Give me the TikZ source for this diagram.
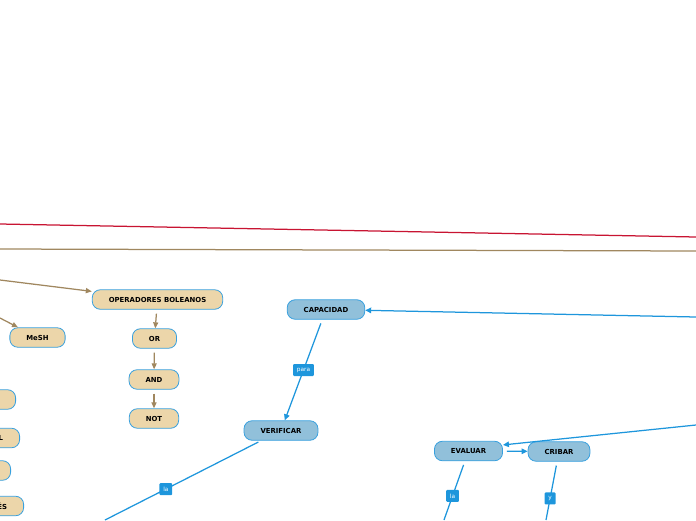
\documentclass[tikz,border=0pt]{standalone}
\usepackage{fontspec}
\setmainfont{DejaVu Sans}
\usetikzlibrary{arrows.meta,positioning}

\definecolor{nodetan}{RGB}{236,214,170}
\definecolor{nodeblue}{RGB}{145,192,218}
\definecolor{rimblue}{RGB}{56,160,222}
\definecolor{linkblue}{RGB}{30,150,220}
\definecolor{linkbrown}{RGB}{160,135,95}
\definecolor{linkred}{RGB}{200,20,50}

\tikzset{
  tanbox/.style={draw=rimblue, fill=nodetan, line width=0.8pt, rounded corners=8pt,
    minimum height=19.5pt, inner xsep=16.5pt, inner ysep=0pt,
    font=\bfseries\fontsize{6.9}{7}\selectfont},
  bluebox/.style={tanbox, fill=nodeblue},
  tag/.style={fill=linkblue, text=white, rounded corners=1pt, inner xsep=3.8pt,
    inner ysep=0pt, minimum height=12pt, font=\fontsize{5.8}{6}\selectfont},
  brownlink/.style={draw=linkbrown, line width=1.25pt, -{Triangle[length=6pt,width=5pt]}},
  bluelink/.style={draw=linkblue, line width=1.25pt, -{Triangle[length=6pt,width=5.5pt]}},
  blueline/.style={draw=linkblue, line width=1.25pt}
}

\begin{document}
\begin{tikzpicture}[x=1pt, y=-1pt]
    \useasboundingbox (0,0) rectangle (696,520);
    \clip (0,0) rectangle (696,520);

    % long connectors crossing the view
    \coordinate (redW) at (0,224);
    \coordinate (redE) at (696,237);
    \coordinate (brownW) at (0,249);
    \coordinate (brownE) at (696,251);
    \draw[linkred, line width=1.25pt] (redW) -- (redE);
    \draw[linkbrown, line width=1.25pt] (brownW) -- (brownE);

    % left column (cut by the edge)
    \node[tanbox, minimum width=50pt, anchor=east] (leftA) at (16,399.5) {};
    \node[tanbox, anchor=east] (leftB) at (20,438) {L};
    \node[tanbox, minimum width=50pt, anchor=east] (leftC) at (11,470.5) {};
    \node[tanbox, anchor=east] (leftD) at (24,506) {ÉS};

    % MeSH and boolean operators
    \node[tanbox] (mesh) at (37.5,337.5) {MeSH};
    \node[tanbox] (operadores) at (157.5,299.5) {OPERADORES BOLEANOS};
    \node[tanbox] (or) at (154.5,338.5) {OR};
    \node[tanbox] (and) at (154,379.5) {AND};
    \node[tanbox] (not) at (154,418.5) {NOT};

    \coordinate (toOper) at (0,280);
    \coordinate (toMesh) at (0,318);
    \draw[brownlink] (toOper) -- (operadores);
    \draw[brownlink] (toMesh) -- (mesh);
    \draw[brownlink, shorten <=4pt] (operadores) -- (or);
    \draw[brownlink, shorten <=4pt] (or) -- (and);
    \draw[brownlink, shorten <=4pt] (and) -- (not);

    % blue branch
    \node[bluebox] (capacidad) at (326,309.5) {CAPACIDAD};
    \node[bluebox] (verificar) at (281,430.5) {VERIFICAR};
    \node[bluebox] (evaluar) at (468.5,451) {EVALUAR};
    \node[bluebox] (cribar) at (559,451.5) {CRIBAR};

    \coordinate (toCap) at (696,317);
    \coordinate (toEval) at (696,425);
    \coordinate (verDown) at (105,520);
    \coordinate (evalDown) at (444,520);
    \coordinate (cribDown) at (546,520);

    \draw[bluelink] (toCap) -- (capacidad);
    \draw[bluelink] (toEval) -- (evaluar.10);
    \draw[bluelink, shorten <=4pt] (capacidad) -- node[tag, pos=0.5] {para} (verificar);
    \draw[bluelink, shorten <=4pt] (evaluar) -- (cribar);
    \draw[blueline, shorten <=3pt] (verificar) -- node[tag, pos=0.61] {la} (verDown);
    \draw[blueline, shorten <=4pt] (evaluar) -- node[tag, pos=0.59] {la} (evalDown);
    \draw[blueline, shorten <=4pt] (cribar) -- node[tag, pos=0.63] {y} (cribDown);
\end{tikzpicture}
\end{document}
